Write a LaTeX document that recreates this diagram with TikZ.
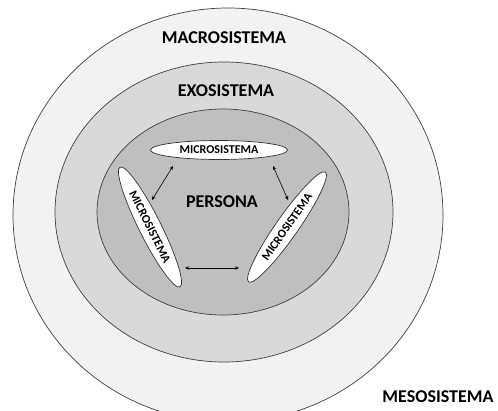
\documentclass[tikz,border=0pt]{standalone}
\usepackage{fontspec}
\setmainfont{Carlito}
\usetikzlibrary{shapes.geometric,arrows.meta}
\definecolor{grisclaro}{HTML}{F2F2F2}
\definecolor{grismedio}{HTML}{D9D9D9}
\definecolor{grisoscuro}{HTML}{BFBFBF}
\begin{document}
\begin{tikzpicture}[x=1pt, y=-1pt,
    anillo/.style={draw=black!75, line width=0.7pt},
    micro/.style={ellipse, draw=black!80, fill=white, line width=0.7pt, inner sep=0pt, font=\fontsize{12}{12}\selectfont\bfseries},
    titulo/.style={font=\fontsize{18}{18}\selectfont\bfseries},
    flecha/.style={{Stealth[length=4pt,width=3.5pt]}-{Stealth[length=4pt,width=3.5pt]}, line width=0.6pt}]
    \useasboundingbox (0,0) rectangle (498,410);
    \clip (0,0) rectangle (498,410);

    % Sistemas concéntricos
    \filldraw[anillo, fill=grisclaro] (228,215) ellipse [x radius=215pt, y radius=207pt];
    \filldraw[anillo, fill=grismedio] (224,212) ellipse [x radius=169pt, y radius=150pt];
    \filldraw[anillo, fill=grisoscuro] (223,212) ellipse [x radius=126pt, y radius=103pt];

    % Etiquetas de los sistemas
    \node[titulo] (macro) at (224,38) {MACROSISTEMA};
    \node[titulo] (exo) at (226,91) {EXOSISTEMA};
    \node[titulo] (persona) at (222,202) {PERSONA};
    \node[titulo, anchor=east] (meso) at (497,397) {MESOSISTEMA};

    % Microsistemas
    \node[micro, minimum width=137pt, minimum height=19pt] (microA) at (219,150) {MICROSISTEMA};
    \node[micro, minimum width=134pt, minimum height=22pt, rotate=-63.4] (microB) at (150,227) {MICROSISTEMA};
    \node[micro, minimum width=134pt, minimum height=22pt, rotate=55] (microC) at (287,227) {MICROSISTEMA};

    % Relaciones entre microsistemas
    \coordinate (ab1) at (152,200);
    \coordinate (ab2) at (173,166);
    \coordinate (ac1) at (273,166);
    \coordinate (ac2) at (288,200);
    \coordinate (bc1) at (185,268);
    \coordinate (bc2) at (239,268);
    \draw[flecha] (ab1) -- (ab2);
    \draw[flecha] (ac1) -- (ac2);
    \draw[flecha] (bc1) -- (bc2);
\end{tikzpicture}
\end{document}
